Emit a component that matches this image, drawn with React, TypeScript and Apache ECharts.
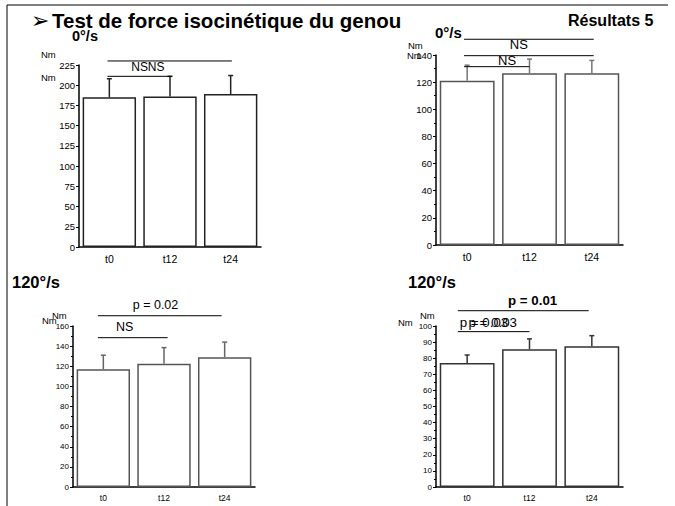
import React, { useEffect, useRef } from 'react';
import * as echarts from 'echarts';

const categories = ['t0', 't12', 't24'];

// Top-left: 0°/s
const meansA = [185, 186, 189];
const sdA = [23, 25, 23];
// Top-right: 0°/s
const meansB = [121, 126.5, 126.5];
const sdB = [11.5, 10.5, 9.5];
// Bottom-left: 120°/s
const meansC = [117, 122.5, 129];
const sdC = [14, 16, 15];
// Bottom-right: 120°/s
const meansD = [77, 85.5, 87.5];
const sdD = [5, 6.5, 6.5];

const yMax = [225, 140, 160, 100];
const yStep = [25, 20, 20, 10];

// significance brackets: [from (category index), to (category index), value]
const sigLinesA = [[-0.03, 1.03, 211], [-0.03, 2.02, 230]];
const sigLinesB = [[-0.05, 1.0, 131.4], [-0.05, 2.03, 139.5], [-0.05, 2.03, 151.6]];
const sigLinesC = [[-0.09, 1.06, 148.4], [-0.09, 1.95, 170.2]];
const sigLinesD = [[-0.15, 1.0, 96.5], [-0.15, 1.95, 109.5]];

// significance labels: [x (category index), value, text]
const sigTextsA = [[0.5, 222.5, 'NS'], [0.77, 222.5, 'NS']];
const sigTextsB = [[0.64, 136, 'NS'], [0.83, 148, 'NS']];
const sigTextsC = [[0.35, 159, 'NS'], [0.86, 180.5, 'p = 0.02']];
const sigTextsD = [[0.27, 101.9, 'p = 0.03'], [0.41, 101.9, 'p = 0.03'], [1.05, 115.8, 'p = 0.01']];

const FONT = 'Liberation Sans, Arial, Helvetica, sans-serif';

export default function App() {
  const ref = useRef<HTMLDivElement>(null);
  useEffect(() => {
    document.body.style.margin = '0';
    const chart = echarts.init(ref.current!, null, { renderer: 'svg' });

    const means = [meansA, meansB, meansC, meansD];
    const sds = [sdA, sdB, sdC, sdD];
    const sigLines = [sigLinesA, sigLinesB, sigLinesC, sigLinesD];
    const sigTexts = [sigTextsA, sigTextsB, sigTextsC, sigTextsD];
    const grids = [
      { left: 79, top: 65, width: 182, height: 182 },
      { left: 436, top: 55, width: 187, height: 190 },
      { left: 73, top: 326, width: 182, height: 161 },
      { left: 436, top: 326, width: 187, height: 161 },
    ];
    const barBorder = ['#222', '#555', '#555', '#333'];
    const errColor = ['#222', '#777', '#666', '#333'];
    const sigFont = [12, 13, 12.5, 13.3];
    const boldLabels = ['p = 0.01'];

    const errRender = (color: string) => (params: any, api: any) => {
      const i = api.value(0);
      const m = api.value(1);
      const t = api.value(2);
      const p1 = api.coord([i, m]);
      const p2 = api.coord([i, t]);
      return {
        type: 'group',
        children: [
          { type: 'line', shape: { x1: p1[0], y1: p1[1], x2: p2[0], y2: p2[1] }, style: { stroke: color, lineWidth: 1.5 } },
          { type: 'line', shape: { x1: p2[0] - 2.5, y1: p2[1], x2: p2[0] + 2.5, y2: p2[1] }, style: { stroke: color, lineWidth: 1.5 } },
        ],
      };
    };

    const lineRender = (lines: number[][]) => (params: any, api: any) => {
      const l = lines[params.dataIndex];
      const a = api.coord([0, l[2]]);
      const b = api.coord([1, l[2]]);
      const step = b[0] - a[0];
      return {
        type: 'line',
        shape: { x1: a[0] + l[0] * step, y1: a[1], x2: a[0] + l[1] * step, y2: a[1] },
        style: { stroke: '#000', lineWidth: 1 },
      };
    };

    const textRender = (texts: any[][], fs: number) => (params: any, api: any) => {
      const t = texts[params.dataIndex];
      const a = api.coord([0, t[1]]);
      const b = api.coord([1, t[1]]);
      const step = b[0] - a[0];
      return {
        type: 'text',
        x: a[0] + t[0] * step,
        y: a[1],
        style: {
          text: t[2],
          fill: '#000',
          fontSize: fs,
          fontFamily: FONT,
          fontWeight: boldLabels.includes(t[2]) ? 'bold' : 'normal',
          align: 'center',
          verticalAlign: 'middle',
          textAlign: 'center',
          textVerticalAlign: 'middle',
        },
      };
    };

    const series: any[] = [];
    for (let g = 0; g < 4; g++) {
      series.push({
        type: 'bar',
        xAxisIndex: g,
        yAxisIndex: g,
        data: means[g],
        barCategoryGap: '12%',
        itemStyle: { color: '#fff', borderColor: barBorder[g], borderWidth: 1.5 },
        silent: true,
      });
      series.push({
        type: 'custom',
        xAxisIndex: g,
        yAxisIndex: g,
        clip: false,
        renderItem: errRender(errColor[g]),
        encode: { x: 0, y: [1, 2] },
        data: means[g].map((m, i) => [i, m, m + sds[g][i]]),
        z: 3,
      });
      series.push({
        type: 'custom',
        xAxisIndex: g,
        yAxisIndex: g,
        clip: false,
        renderItem: lineRender(sigLines[g]),
        encode: { x: 0, y: 1 },
        data: sigLines[g].map((l) => [0, l[2]]),
        z: 4,
      });
      series.push({
        type: 'custom',
        xAxisIndex: g,
        yAxisIndex: g,
        clip: false,
        renderItem: textRender(sigTexts[g], sigFont[g]),
        encode: { x: 0, y: 1 },
        data: sigTexts[g].map((t) => [0, t[1]]),
        z: 5,
      });
    }

    const txt = (text: string, x: number, y: number, fontSize: number, bold = false, family = FONT) => ({
      type: 'text',
      x,
      y,
      style: {
        text,
        fill: '#000',
        fontSize,
        fontFamily: family,
        fontWeight: bold ? 'bold' : 'normal',
        align: 'left',
        verticalAlign: 'middle',
        textAlign: 'left',
        textVerticalAlign: 'middle',
      },
    });

    const option: any = {
      animation: false,
      grid: grids.map((g) => ({ ...g, containLabel: false })),
      xAxis: grids.map((_, i) => ({
        gridIndex: i,
        type: 'category',
        data: categories,
        axisLine: { lineStyle: { color: '#000', width: 1.5 } },
        axisTick: { show: false },
        axisLabel: { color: '#000', fontSize: i < 2 ? 10.5 : 8.5, margin: 6, fontFamily: FONT },
      })),
      yAxis: grids.map((_, i) => ({
        gridIndex: i,
        type: 'value',
        min: 0,
        max: yMax[i],
        interval: yStep[i],
        axisLine: { show: true, lineStyle: { color: '#000', width: 1.5 } },
        axisTick: { show: true, length: 3, lineStyle: { color: '#000' } },
        minorTick: { show: i > 0, splitNumber: 2, length: 2, lineStyle: { color: '#000' } },
        splitLine: { show: false },
        axisLabel: { color: '#000', fontSize: i < 2 ? 9.5 : 8, margin: 4, fontFamily: FONT },
      })),
      series,
      graphic: [
        { type: 'line', shape: { x1: 7, y1: 5, x2: 668, y2: 5 }, style: { stroke: '#000', lineWidth: 1 } },
        { type: 'line', shape: { x1: 7, y1: 5, x2: 7, y2: 506 }, style: { stroke: '#000', lineWidth: 1 } },
        txt('\u27A2', 31, 20, 22, false, 'DejaVu Sans'),
        txt('Test de force isocinétique du genou', 52, 20, 20.5, true),
        txt('Résultats 5', 568, 20, 16, true),
        txt('0°/s', 72, 36, 14.5, true),
        txt('0°/s', 435, 32, 15, true),
        txt('120°/s', 12, 282, 16.5, true),
        txt('120°/s', 408, 282, 16.5, true),
        txt('Nm', 41, 54, 9.5),
        txt('Nm', 41, 77, 9.5),
        txt('Nm', 408, 45, 9.5),
        txt('Nm', 407, 55, 9.5),
        txt('Nm', 52, 315, 9.5),
        txt('Nm', 42, 320, 9.5),
        txt('Nm', 420, 315, 9.5),
        txt('Nm', 398, 322, 9.5),
      ],
    };
    chart.setOption(option);
    return () => chart.dispose();
  }, []);
  return <div ref={ref} style={{ width: 675, height: 506 }} />;
}
